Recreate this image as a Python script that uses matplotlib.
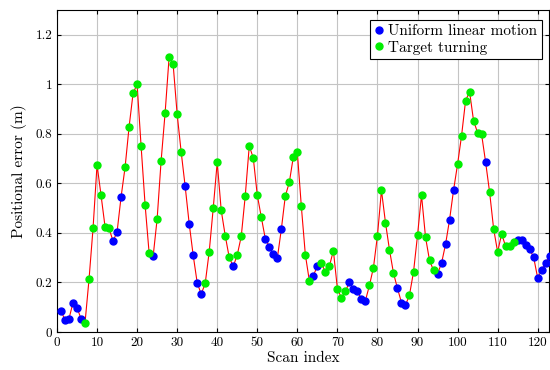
import matplotlib
matplotlib.use("Agg")
import matplotlib.pyplot as plt
from matplotlib.ticker import FuncFormatter

# Positional error per scan
scan_index = list(range(1, 124))
error = [0.085, 0.049, 0.054, 0.118, 0.098, 0.054, 0.037, 0.213, 0.418, 0.675,
         0.552, 0.425, 0.418, 0.367, 0.404, 0.545, 0.665, 0.828, 0.964, 1.000,
         0.750, 0.513, 0.319, 0.305, 0.456, 0.692, 0.886, 1.112, 1.080, 0.879,
         0.727, 0.588, 0.438, 0.310, 0.199, 0.153, 0.196, 0.324, 0.499, 0.685,
         0.491, 0.389, 0.301, 0.265, 0.311, 0.386, 0.550, 0.751, 0.703, 0.553,
         0.464, 0.377, 0.345, 0.313, 0.297, 0.414, 0.549, 0.604, 0.707, 0.725,
         0.507, 0.312, 0.207, 0.228, 0.266, 0.278, 0.242, 0.266, 0.328, 0.175,
         0.138, 0.165, 0.200, 0.173, 0.165, 0.132, 0.127, 0.188, 0.260, 0.389,
         0.572, 0.442, 0.332, 0.238, 0.176, 0.119, 0.108, 0.150, 0.242, 0.390,
         0.552, 0.383, 0.289, 0.249, 0.235, 0.278, 0.354, 0.453, 0.573, 0.677,
         0.793, 0.934, 0.970, 0.852, 0.805, 0.798, 0.686, 0.564, 0.417, 0.323,
         0.396, 0.346, 0.348, 0.364, 0.372, 0.372, 0.352, 0.335, 0.301, 0.218,
         0.251, 0.278, 0.308]
# U = uniform linear motion, T = target turning
motion = ("UUUUUUTTTT" "TTTUUUTTTT" "TTTUTTTTTT" "TUUUUUTTTT"
          "TTTUTTTTTT" "TUUUUUTTTT" "TTTUUTTTTT" "TTUUUUUTTT"
          "TTTTUUUTTT" "TTTTUUUUUT" "TTTTTTUTTT" "TTTTUUUUUU"
          "UUU")

x_u = [x for x, m in zip(scan_index, motion) if m == "U"]
y_u = [y for y, m in zip(error, motion) if m == "U"]
x_t = [x for x, m in zip(scan_index, motion) if m == "T"]
y_t = [y for y, m in zip(error, motion) if m == "T"]

plt.rcParams["font.family"] = "cmr10"
plt.rcParams["mathtext.fontset"] = "cm"
plt.rcParams["axes.unicode_minus"] = False

fig = plt.figure(figsize=(5.5, 3.7), dpi=100)
ax = fig.add_axes([0.1036, 0.1027, 0.8944, 0.8703])

ax.plot(scan_index, error, color="red", linewidth=0.8, zorder=2)
ax.plot(x_u, y_u, "o", color="blue", markersize=5, label="Uniform linear motion", zorder=3)
ax.plot(x_t, y_t, "o", color="#00ee00", markersize=5, label="Target turning", zorder=3)

ax.set_xlim(0, 122.8)
ax.set_ylim(0, 1.3)
ax.set_xticks(range(0, 121, 10))
ax.set_yticks([0, 0.2, 0.4, 0.6, 0.8, 1.0, 1.2])
ax.yaxis.set_major_formatter(FuncFormatter(lambda v, p: "%g" % v))
ax.tick_params(direction="in", top=True, right=True, labelsize=9.5, length=3)
ax.grid(True, color="#c4c4c4", linewidth=0.8)
ax.set_axisbelow(True)
for s in ax.spines.values():
    s.set_linewidth(0.8)

ax.set_xlabel("Scan index", fontsize=11, labelpad=2)
ax.set_ylabel("Positional error (m)", fontsize=11, labelpad=6)

leg = ax.legend(loc="upper right", fontsize=11, handlelength=0.6, handletextpad=0.3,
                borderpad=0.3, labelspacing=0.15, fancybox=False, framealpha=1,
                edgecolor="black", borderaxespad=0, bbox_to_anchor=(0.986, 0.969))
leg.get_frame().set_linewidth(0.8)

fig.savefig("out.png", dpi=100)
